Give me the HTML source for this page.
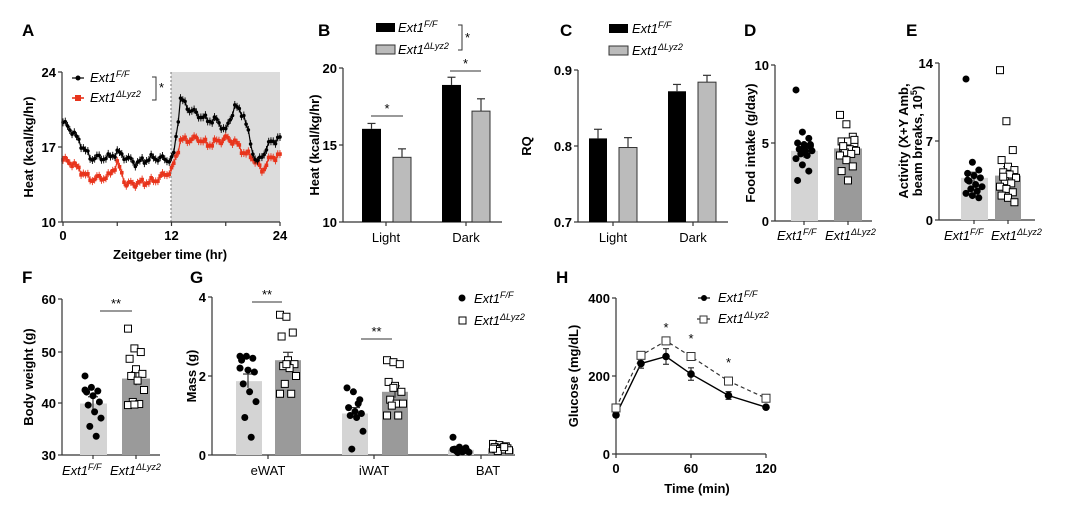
<!DOCTYPE html>
<html><head><meta charset="utf-8"><style>
html,body{margin:0;padding:0;background:#fff;}
svg{display:block;font-family:"Liberation Sans",Arial,sans-serif;}
.t{font-size:13px;font-weight:bold;}
.l{font-size:13px;}
.L{font-size:17px;font-weight:bold;}
.i{font-size:13px;font-style:italic;}
</style></head><body>
<svg id="s" width="1080" height="516" viewBox="0 0 1080 516" xmlns="http://www.w3.org/2000/svg"></svg>
<script>
var o=[];
function a(s){o.push(s);}
function ln(x1,y1,x2,y2,c,w,d){a('<line x1="'+x1+'" y1="'+y1+'" x2="'+x2+'" y2="'+y2+'" stroke="'+(c||'#333')+'" stroke-width="'+(w||1.2)+'"'+(d?' stroke-dasharray="'+d+'"':'')+'/>');}
function tx(x,y,s,cl,anc,extra){a('<text x="'+x+'" y="'+y+'" class="'+cl+'" text-anchor="'+(anc||'start')+'"'+(extra||'')+'>'+s+'</text>');}
function rect(x,y,w,h,f,st){a('<rect x="'+x+'" y="'+y+'" width="'+w+'" height="'+h+'" fill="'+f+'"'+(st?' stroke="'+st+'" stroke-width="1"':'')+'/>');}
function ext(x,y,sup,anc){a('<text x="'+x+'" y="'+y+'" class="i" text-anchor="'+(anc||'start')+'">Ext1<tspan dy="-5" font-size="9">'+sup+'</tspan></text>');}
var FF='F/F', DL='&#916;Lyz2';
function yl(x,y,s){tx(x,y,s,'t','middle',' transform="rotate(-90 '+x+' '+y+')"');}
function yaxis(x,yt,yb,ticks){ln(x,yt,x,yb);ticks.forEach(function(t){ln(x-4,t[1],x,t[1]);tx(x-6,t[1]+5,t[0],'t','end');});}
function errbar(x,y1,y2,w){ln(x,y1,x,y2,'#333',1.2);ln(x-w,y1,x+w,y1,'#333',1.2);}
function star(x1,x2,y,s){ln(x1,y,x2,y,'#333',1);tx((x1+x2)/2,y-3,s,'l','middle');}
[['A',22,36],['B',318,36],['C',560,36],['D',744,36],['E',906,36],['F',22,283],['G',190,283],['H',556,283]].forEach(function(p){tx(p[1],p[2],p[0],'L');});

// Panel A
rect(171,72,109,150,'#dcdcdc');
ln(171,72,171,222,'#777',1,'2,2');
function ya(v){return 222-(v-10)*150/14;}
function xa(t){return 63+t*(217/24);}
function gen(keys){var pts=[];for(var t=0;t<=24.001;t+=0.25){var v=0;for(var k=0;k<keys.length-1;k++){if(t>=keys[k][0]&&t<=keys[k+1][0]){var f=(t-keys[k][0])/(keys[k+1][0]-keys[k][0]);v=keys[k][1]+f*(keys[k+1][1]-keys[k][1]);break;}}v+=0.25*Math.sin(t*5.3)+0.12*Math.sin(t*11.7);pts.push([xa(t),ya(v)]);}return pts;}
var blk=gen([[0,19.3],[1,18.5],[3,16],[5,16],[6,16.5],[8,15.5],[10,16],[12,15.8],[12.3,16.5],[13,21.5],[14,20.5],[16,19.5],[17,19.5],[18,18.5],[19,20.8],[20,20],[21,16.5],[21.5,15.5],[23,17.5],[24,17.8]]);
var red=gen([[0,15.8],[1,15.5],[3,14],[5,14.2],[6,15.5],[7,13.5],[10,13.8],[12,14.8],[12.3,15.5],[13,17.6],[15,17.8],[16,17.2],[18,17.8],[19,17.5],[20,16.5],[21,16],[22,14.8],[23,16],[24,16.2]]);
function series(p,c,m){p.forEach(function(q){ln(q[0],q[1]-4,q[0],q[1]+4,c,0.9);});var d=p.map(function(q){return q[0].toFixed(1)+','+q[1].toFixed(1);}).join(' ');a('<polyline points="'+d+'" fill="none" stroke="'+c+'" stroke-width="1.2"/>');p.forEach(function(q){if(m=='c')a('<circle cx="'+q[0]+'" cy="'+q[1]+'" r="1.8" fill="'+c+'"/>');else rect(q[0]-1.8,q[1]-1.8,3.6,3.6,c);});}
series(red,'#e8341c','s');series(blk,'#000','c');
yaxis(62,72,222,[['24',72],['17',147],['10',222]]);
ln(62,222,280,222);[[0,'0'],[6,''],[12,'12'],[18,''],[24,'24']].forEach(function(t){var x=xa(t[0]);ln(x,222,x,226);if(t[1])tx(x,240,t[1],'t','middle');});
tx(170,259,'Zeitgeber time (hr)','t','middle');yl(33,147,'Heat (kcal/kg/hr)');
ln(72,78,84,78,'#000',1.2);a('<circle cx="78" cy="78" r="2.5" fill="#000"/>');ext(90,82,FF);
ln(72,98,84,98,'#e8341c',1.6);rect(75,95,6,6,'#e8341c');ext(90,102,DL);
a('<polyline points="152,77 156,77 156,100 152,100" fill="none" stroke="#333"/>');tx(159,92,'*','l');

// Panel B
function yb(v){return 222-(v-10)*15.4;}
yaxis(343,68,222,[['20',68],['15',145],['10',222]]);ln(343,222,502,222);ln(386,222,386,226);ln(466,222,466,226);
rect(362,yb(16.05),19,222-yb(16.05),'#000');errbar(371.5,yb(16.4),yb(16.05),4);
rect(393,yb(14.2),18,222-yb(14.2),'#bbb','#333');errbar(402,yb(14.75),yb(14.2),4);
rect(442,yb(18.9),19,222-yb(18.9),'#000');errbar(451.5,yb(19.4),yb(18.9),4);
rect(472,yb(17.2),18,222-yb(17.2),'#bbb','#333');errbar(481,yb(18),yb(17.2),4);
star(371,403,116,'*');star(450,481,71,'*');
tx(386,242,'Light','l','middle');tx(466,242,'Dark','l','middle');yl(319,145,'Heat (kcal/kg/hr)');
rect(376,23,19,9,'#000');ext(398,32,FF);rect(376,45,19,9,'#bbb','#333');ext(398,54,DL);
a('<polyline points="458,25 462,25 462,50 458,50" fill="none" stroke="#333"/>');tx(465,42,'*','l');

// Panel C
function yc(v){return 222-(v-0.7)*760;}
yaxis(578,70,222,[['0.9',70],['0.8',146],['0.7',222]]);ln(578,222,728,222);ln(613,222,613,226);ln(693,222,693,226);
rect(589,yc(0.81),18,222-yc(0.81),'#000');errbar(598,yc(0.822),yc(0.81),4);
rect(619,yc(0.798),18,222-yc(0.798),'#bbb','#333');errbar(628,yc(0.811),yc(0.798),4);
rect(668,yc(0.872),18,222-yc(0.872),'#000');errbar(677,yc(0.881),yc(0.872),4);
rect(698,yc(0.884),18,222-yc(0.884),'#bbb','#333');errbar(707,yc(0.893),yc(0.884),4);
tx(613,242,'Light','l','middle');tx(693,242,'Dark','l','middle');yl(531,146,'RQ');
rect(609,24,19,9,'#000');ext(632,33,FF);rect(609,46,19,9,'#bbb','#333');ext(632,55,DL);

function dots(arr,cx,yf,filled){arr.forEach(function(v,i){var x=cx+((i*37)%11-5)*1.6;var y=yf(v);if(filled)a('<circle cx="'+x+'" cy="'+y+'" r="3.5" fill="#000"/>');else rect(x-3.5,y-3.5,7,7,'#fff','#000');});}

// Panel D
function yd(v){return 221-v*15.6;}
yaxis(775,65,221,[['10',65],['5',143],['0',221]]);ln(775,221,872,221);ln(804,221,804,225);ln(848,221,848,225);
rect(791,yd(4.5),27,221-yd(4.5),'#d4d4d4');rect(834,yd(4.65),28,221-yd(4.65),'#9a9a9a');
errbar(804,yd(4.95),yd(4.05),5);errbar(848,yd(5.0),yd(4.3),5);
dots([8.4,5.7,5.3,5.0,4.9,4.8,4.6,4.5,4.5,4.3,4.2,4.0,3.6,3.2,2.6,4.7,4.9],804,yd,true);
dots([6.8,6.2,5.4,5.1,5.1,5.0,4.7,4.6,4.5,4.4,4.3,4.2,3.9,3.5,3.2,2.6,5.2,4.8],848,yd,false);
ext(777,240,FF);ext(825,240,DL);yl(755,143,'Food intake (g/day)');

// Panel E
function ye(v){return 220-v*11.1;}
yaxis(939,63,220,[['14',63],['7',141],['0',220]]);ln(939,220,1035,220);ln(974,220,974,224);ln(1008,220,1008,224);
rect(961,ye(3.8),27,220-ye(3.8),'#d4d4d4');rect(995,ye(4.0),26,220-ye(4.0),'#9a9a9a');
errbar(974,ye(4.3),ye(3.3),5);errbar(1008,ye(4.8),ye(3.4),5);
dots([12.7,5.2,4.5,4.2,4.0,3.8,3.5,3.2,3.0,2.8,2.6,2.4,2.2,2.0,3.6],974,ye,true);
dots([13.5,8.9,6.3,5.4,4.8,4.5,4.3,4.1,3.8,3.5,3.3,3.0,2.8,2.5,2.2,2.0,1.6,3.9],1008,ye,false);
ext(944,240,FF);ext(991,240,DL);
yl(908,141,'Activity (X+Y Amb,');a('<text x="922" y="141" class="t" text-anchor="middle" transform="rotate(-90 922 141)">beam breaks, 10<tspan dy="-5" font-size="9">5</tspan><tspan dy="5">)</tspan></text>');

// Panel F
function yf(v){return 455-(v-30)*5.2;}
yaxis(62,299,455,[['60',299],['50',352],['40',403],['30',455]]);ln(62,455,160,455);ln(93,455,93,459);ln(136,455,136,459);
rect(80,yf(39.9),27,455-yf(39.9),'#d4d4d4');rect(122,yf(44.7),28,455-yf(44.7),'#9a9a9a');
errbar(93,yf(41.2),yf(38.6),5);errbar(136,yf(46),yf(43.4),5);
dots([45.2,43,42.3,42.1,41.4,40.2,39.6,38.3,37.1,35.5,33.6,42.5],93,yf,true);
dots([54.3,50.5,49.8,48.5,46.5,45.6,45.2,44.3,42.5,40.2,39.8,39.6,39.7],136,yf,false);
star(100,132,311,'**');ext(62,475,FF);ext(110,475,DL);yl(33,377,'Body weight (g)');

// Panel G
function yg(v){return 455-v*39.5;}
yaxis(212,297,455,[['4',297],['2',376],['0',455]]);ln(212,455,515,455);[268,374,481].forEach(function(x){ln(x,455,x,459);});
rect(236,yg(1.87),26,455-yg(1.87),'#d4d4d4');rect(275,yg(2.4),26,455-yg(2.4),'#9a9a9a');
rect(342,yg(1.05),26,455-yg(1.05),'#d4d4d4');rect(382,yg(1.6),26,455-yg(1.6),'#9a9a9a');
rect(448,yg(0.13),26,455-yg(0.13),'#d4d4d4');rect(488,yg(0.17),26,455-yg(0.17),'#9a9a9a');
errbar(248,yg(2.05),yg(1.7),5);errbar(288,yg(2.6),yg(2.2),5);errbar(355,yg(1.2),yg(0.9),5);errbar(395,yg(1.75),yg(1.45),5);
dots([2.5,2.5,2.45,2.4,2.15,2.1,1.8,1.6,1.35,0.95,0.45,2.2],248,yg,true);
dots([3.55,3.5,3.1,3.0,2.4,2.3,2.25,2.2,2.0,1.8,1.55,1.55,2.3],288,yg,false);
dots([1.7,1.6,1.4,1.2,1.1,1.05,1.0,0.95,0.6,0.15,1.3],355,yg,true);
dots([2.4,2.35,2.3,1.85,1.75,1.6,1.4,1.3,1.3,1.25,1.0,1.0,1.7],395,yg,false);
dots([0.45,0.2,0.18,0.15,0.12,0.1,0.1,0.08,0.07,0.06,0.12,0.14],461,yg,true);
dots([0.28,0.25,0.22,0.2,0.18,0.17,0.15,0.14,0.12,0.1,0.2,0.16],501,yg,false);
star(252,282,302,'**');star(361,392,339,'**');
tx(268,475,'eWAT','l','middle');tx(374,475,'iWAT','l','middle');tx(488,475,'BAT','l','middle');yl(196,376,'Mass (g)');
a('<circle cx="462" cy="298" r="3.5" fill="#000"/>');ext(474,303,FF);rect(459,317,7,7,'#fff','#000');ext(474,325,DL);

// Panel H
function yh(v){return 454-v*0.39;}function xh(t){return 616+t*1.25;}
yaxis(616,298,454,[['400',298],['200',376],['0',454]]);ln(616,454,766,454);[[0,'0'],[60,'60'],[120,'120']].forEach(function(t){ln(xh(t[0]),454,xh(t[0]),458);tx(xh(t[0]),473,t[1],'t','middle');});
var T=[0,20,40,60,90,120],B=[100,232,250,205,150,120],W=[118,253,290,250,187,143],EB=[5,12,20,16,10,4],EW=[5,8,8,9,6,4];
a('<polyline points="'+T.map(function(t,i){return xh(t)+','+yh(W[i]);}).join(' ')+'" fill="none" stroke="#333" stroke-width="1.2" stroke-dasharray="4,3"/>');
a('<polyline points="'+T.map(function(t,i){return xh(t)+','+yh(B[i]);}).join(' ')+'" fill="none" stroke="#000" stroke-width="1.4"/>');
T.forEach(function(t,i){var x=xh(t);ln(x,yh(B[i]+EB[i]),x,yh(B[i]-EB[i]));ln(x-3,yh(B[i]+EB[i]),x+3,yh(B[i]+EB[i]));ln(x-3,yh(B[i]-EB[i]),x+3,yh(B[i]-EB[i]));
ln(x,yh(W[i]+EW[i]),x,yh(W[i]-EW[i]));a('<circle cx="'+x+'" cy="'+yh(B[i])+'" r="3.8" fill="#000"/>');rect(x-4,yh(W[i])-4,8,8,'#fff','#333');});
tx(xh(40),332,'*','l','middle');tx(xh(60),343,'*','l','middle');tx(xh(90),367,'*','l','middle');
tx(697,493,'Time (min)','t','middle');yl(578,376,'Glucose (mg/dL)');
ln(698,298,710,298,'#000',1.2);a('<circle cx="704" cy="298" r="3" fill="#000"/>');ext(718,302,FF);
ln(697,319,711,319,'#333',1.2,'3,2');rect(700,316,7,7,'#fff','#333');ext(718,323,DL);
document.getElementById('s').innerHTML=o.join('');
</script>
</body></html>
